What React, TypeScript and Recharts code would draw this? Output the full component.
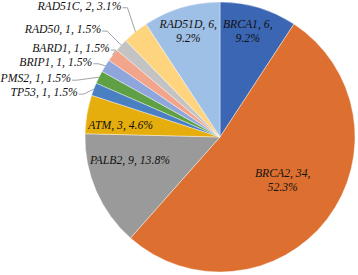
import React from "react";
import { PieChart, Pie, Cell } from "recharts";

const genes = ["BRCA1", "BRCA2", "PALB2", "ATM", "TP53", "PMS2", "BRIP1", "BARD1", "RAD50", "RAD51C", "RAD51D"];
const counts = [6, 34, 9, 3, 1, 1, 1, 1, 1, 2, 6];
const colors = ["#3b66b3", "#dd7030", "#9a9a9a", "#e6ae0c", "#4a7fc1", "#5ea043", "#8fa6dc", "#f2a58b", "#c3c3c3", "#ffd47f", "#9fc0e6"];

const total = counts.reduce((a, b) => a + b, 0);
const data = genes.map((name, i) => ({ name, value: counts[i] }));

const RAD = Math.PI / 180;

// inside labels: radius + angle shift; outside: offset from slice edge
type Inside = { kind: "in"; r: number; shift: number; split: boolean };
type Outside = { kind: "out"; dx: number; dy: number };
const labelLayout: Record<string, Inside | Outside> = {
  BRCA1: { kind: "in", r: 110, shift: 2, split: true },
  BRCA2: { kind: "in", r: 76, shift: 3, split: true },
  PALB2: { kind: "in", r: 93, shift: -9, split: false },
  ATM: { kind: "in", r: 100, shift: 3, split: false },
  TP53: { kind: "out", dx: -16, dy: 3 },
  PMS2: { kind: "out", dx: -28, dy: 1 },
  BRIP1: { kind: "out", dx: -13, dy: -4 },
  BARD1: { kind: "out", dx: -3, dy: -7 },
  RAD50: { kind: "out", dx: -20, dy: -16 },
  RAD51C: { kind: "out", dx: -14, dy: -26 },
  RAD51D: { kind: "in", r: 111, shift: 0, split: true },
};

const font = {
  fontFamily: "'Liberation Serif', 'Times New Roman', serif",
  fontStyle: "italic" as const,
  fontSize: 11.7,
  fill: "#111",
};

function renderLabel(props: any) {
  const { cx, cy, midAngle, outerRadius, name, value } = props;
  const pct = ((value / total) * 100).toFixed(1) + "%";
  const cfg = labelLayout[name];
  if (!cfg) return null;
  if (cfg.kind === "in") {
    const a = (midAngle + cfg.shift) * RAD;
    const x = cx + cfg.r * Math.cos(a);
    const y = cy - cfg.r * Math.sin(a);
    if (cfg.split) {
      return (
        <text x={x} y={y} textAnchor="middle" {...font}>
          <tspan x={x} dy={-3}>{`${name}, ${value},`}</tspan>
          <tspan x={x} dy={14.5}>{pct}</tspan>
        </text>
      );
    }
    return (
      <text x={x} y={y + 4} textAnchor="middle" {...font}>
        {`${name}, ${value}, ${pct}`}
      </text>
    );
  }
  const a = midAngle * RAD;
  const ex = cx + outerRadius * Math.cos(a);
  const ey = cy - outerRadius * Math.sin(a);
  const tx = ex + cfg.dx;
  const ty = ey + cfg.dy;
  const pts = `${tx + 1},${ty + 2} ${tx + 6},${ty + 2} ${ex},${ey}`;
  return (
    <g>
      <polyline points={pts} fill="none" stroke="#8c8c8c" strokeWidth={0.8} />
      <text x={tx} y={ty + 4.2} textAnchor="end" {...font}>
        {`${name}, ${value}, ${pct}`}
      </text>
    </g>
  );
}

export default function App() {
  return (
    <div style={{ position: "absolute", left: 0, top: 0, width: 358, height: 275, background: "#fff" }}>
      <PieChart width={358} height={275} margin={{ top: 0, right: 0, bottom: 0, left: 0 }}>
        <Pie
          data={data}
          dataKey="value"
          nameKey="name"
          cx={220}
          cy={137}
          outerRadius={135}
          startAngle={90}
          endAngle={-270}
          stroke="#ffffff"
          strokeWidth={0.4}
          label={renderLabel}
          labelLine={false}
          isAnimationActive={false}
        >
          {data.map((d, i) => (
            <Cell key={d.name} fill={colors[i]} />
          ))}
        </Pie>
      </PieChart>
    </div>
  );
}
